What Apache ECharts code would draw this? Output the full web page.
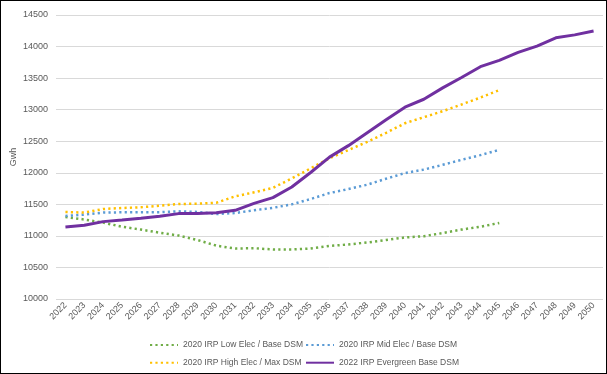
<!DOCTYPE html>
<html><head><meta charset="utf-8">
<script src="https://cdn.jsdelivr.net/npm/echarts@6/dist/echarts.min.js"></script>
<style>
html,body{margin:0;padding:0;background:#fff;}
#wrap{width:607px;height:374px;box-sizing:border-box;border:1px solid #000;}
#c{width:605px;height:372px;}
</style></head>
<body><div id="wrap"><div id="c"></div></div>
<script>
const years = ['2022','2023','2024','2025','2026','2027','2028','2029','2030','2031','2032','2033','2034','2035','2036','2037','2038','2039','2040','2041','2042','2043','2044','2045','2046','2047','2048','2049','2050'];
const lowElec = [11300,11260,11210,11145,11100,11050,11005,10935,10845,10800,10805,10785,10785,10800,10840,10865,10895,10935,10975,10995,11045,11100,11145,11205];
const midElec = [11315,11337,11369,11374,11374,11376,11389,11380,11347,11362,11405,11445,11500,11584,11679,11742,11811,11906,11995,12050,12126,12205,12280,12363];
const highElec = [11378,11369,11426,11442,11453,11479,11505,11510,11526,11626,11690,11760,11910,12070,12230,12360,12490,12632,12785,12880,12976,13082,13192,13310];
const evergreen = [11141,11168,11226,11252,11279,11310,11353,11355,11365,11405,11515,11606,11775,12005,12248,12430,12635,12840,13040,13165,13345,13510,13681,13782,13908,14008,14139,14185,14245];
const seriesNames = ['2020 IRP Low Elec / Base DSM','2020 IRP Mid Elec / Base DSM','2020 IRP High Elec / Max DSM','2022 IRP Evergreen Base DSM'];

const chart = echarts.init(document.getElementById('c'));
const font = 'Liberation Sans, Arial, sans-serif';
const txt = {color:'#595959', fontSize:9, fontFamily:font};
function dotted(name, data, color){
  return {name, type:'line', data, symbol:'none', smooth:false, animation:false,
    lineStyle:{color, width:2.5, type:[2.2,3.2], cap:'butt'}, itemStyle:{color}};
}
function legendCol(left, names){
  return {orient:'vertical', left, top:338.5, height:40, padding:[0,0,0,0],
    itemWidth:28, itemHeight:11, itemGap:6.7,
    itemStyle:{opacity:0},
    data:names, textStyle:Object.assign({}, txt, {fontSize:8.5, lineHeight:11})};
}
chart.setOption({
  animation:false,
  grid:{left:55, right:3, top:14, bottom:74, containLabel:false, outerBoundsMode:'none'},
  xAxis:{type:'category', data:years, boundaryGap:true,
    axisLine:{show:false}, axisTick:{show:false},
    axisLabel:Object.assign({rotate:45, interval:0, margin:5}, txt)},
  yAxis:{type:'value', min:10000, max:14500, interval:500,
    name:'Gwh', nameLocation:'middle', nameRotate:90, nameGap:38, nameMoveOverlap:false,
    nameTextStyle:Object.assign({}, txt),
    axisLine:{show:false}, axisTick:{show:false},
    axisLabel:Object.assign({margin:8, formatter:function(v){return String(v);}}, txt),
    splitLine:{lineStyle:{color:'#d9d9d9', width:1}}},
  legend:[
    legendCol(148, [seriesNames[0], seriesNames[2]]),
    legendCol(304, [seriesNames[1], seriesNames[3]])
  ],
  series:[
    dotted(seriesNames[0], lowElec, '#70AD47'),
    dotted(seriesNames[1], midElec, '#5B9BD5'),
    dotted(seriesNames[2], highElec, '#FFC000'),
    {name:seriesNames[3], type:'line', data:evergreen, symbol:'none',
      lineStyle:{color:'#7030A0', width:3}, itemStyle:{color:'#7030A0'}}
  ]
});
</script></body></html>
